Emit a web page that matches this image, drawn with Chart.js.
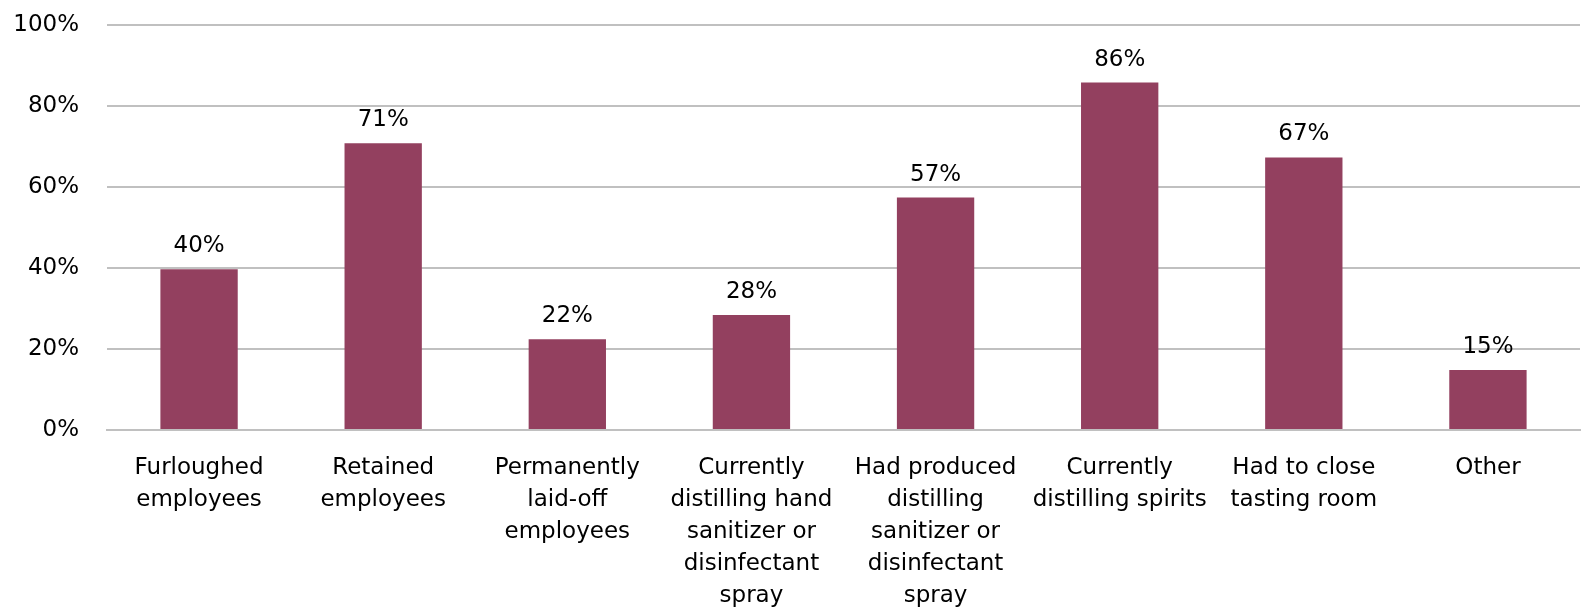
<!DOCTYPE html>
<html>
<head>
<meta charset="utf-8">
<script src="https://cdn.jsdelivr.net/npm/chart.js@4.4.1/dist/chart.umd.min.js"></script>
<style>
  html, body { margin: 0; padding: 0; background: #fff; }
  #wrap { width: 1581px; height: 607px; position: relative; }
</style>
</head>
<body>
<div id="wrap"><canvas id="chart"></canvas></div>
<script>
const categories = [
  ['Furloughed', 'employees'],
  ['Retained', 'employees'],
  ['Permanently', 'laid-off', 'employees'],
  ['Currently', 'distilling hand', 'sanitizer or', 'disinfectant', 'spray'],
  ['Had produced', 'distilling', 'sanitizer or', 'disinfectant', 'spray'],
  ['Currently', 'distilling spirits'],
  ['Had to close', 'tasting room'],
  ['Other']
];
const shares = [39.7, 70.8, 22.4, 28.4, 57.4, 85.8, 67.3, 14.8];
const yTicks = [0, 20, 40, 60, 80, 100];

const barColor = '#93405f';
const fontFamily = '"DejaVu Sans", Verdana, sans-serif';

// draws the % labels above each bar
const valueLabels = {
  id: 'valueLabels',
  afterDatasetsDraw(chart) {
    const ctx = chart.ctx;
    const meta = chart.getDatasetMeta(0);
    ctx.save();
    ctx.font = '23px ' + fontFamily;
    ctx.fillStyle = '#000';
    ctx.textAlign = 'center';
    ctx.textBaseline = 'alphabetic';
    meta.data.forEach((bar, i) => {
      ctx.fillText(Math.round(shares[i]) + '%', bar.x, bar.y - 17);
    });
    ctx.restore();
  }
};

const ctx = document.getElementById('chart').getContext('2d');
const chart = new Chart(ctx, {
  type: 'bar',
  data: {
    labels: categories,
    datasets: [{
      data: shares,
      backgroundColor: barColor,
      borderWidth: 0,
      categoryPercentage: 1,
      barPercentage: 0.42
    }]
  },
  options: {
    responsive: true,
    maintainAspectRatio: false,
    animation: false,
    layout: { padding: { top: 25, right: 1, left: 0, bottom: 0 } },
    plugins: {
      legend: { display: false },
      tooltip: { enabled: false }
    },
    scales: {
      x: {
        grid: { display: false },
        border: { display: true, color: '#c0c0c0', width: 2 },
        ticks: {
          color: '#000',
          font: { family: fontFamily, size: 23, lineHeight: 1.39 },
          maxRotation: 0,
          autoSkip: false,
          padding: 14
        },
        afterFit(scale) { scale.height = 177; }
      },
      y: {
        min: 0,
        max: 100,
        afterBuildTicks(scale) { scale.ticks = yTicks.map(v => ({ value: v })); },
        grid: { color: '#c0c0c0', lineWidth: 2, drawTicks: false },
        border: { display: false },
        ticks: {
          color: '#000',
          font: { family: fontFamily, size: 23 },
          padding: 28,
          callback: v => v + '%'
        },
        afterFit(scale) {
          scale.width = 107;
          // tick padding otherwise pushes the plot top down
          scale.paddingTop = 0;
          scale.paddingBottom = 0;
        }
      }
    }
  },
  plugins: [valueLabels]
});
</script>
</body>
</html>
